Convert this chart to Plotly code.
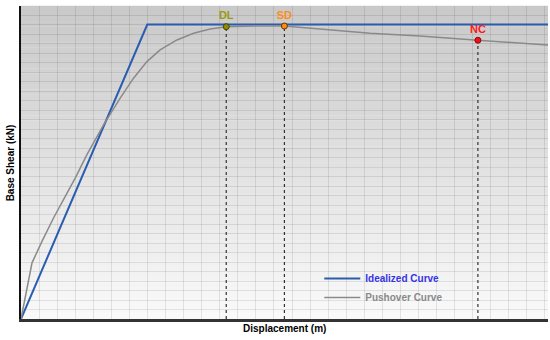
import plotly.graph_objects as go

# Data (displacement in m, base shear in kN)
pushover_disp = [0.0, 0.0061, 0.0116, 0.0180, 0.0245, 0.0300, 0.0365, 0.0457, 0.0549, 0.0623,
                 0.0697, 0.0770, 0.0863, 0.0955, 0.1047, 0.1136, 0.1296, 0.1458, 0.1932,
                 0.2208, 0.2529, 0.2917]
pushover_shear = [0, 592, 819, 1065, 1293, 1486, 1732, 2047, 2328, 2539,
                  2714, 2837, 2942, 3013, 3058, 3082, 3089, 3089, 3013,
                  2984, 2939, 2889]
ideal_disp = [0.0, 0.0699, 0.2917]
ideal_shear = [0, 3105, 3105]

points = ["DL", "SD", "NC"]
point_disp = [0.1136, 0.1458, 0.2529]
point_shear = [3082, 3089, 2939]
point_colors = ["#8c8c00", "#ff8c1a", "#e8141e"]
point_edges = ["#444400", "#663300", "#990000"]
label_colors = ["#9a9a10", "#ff8c1a", "#ff1a1a"]

x_range = [0, 0.2917]
y_range = [0, 3300]

fig = go.Figure()

# gradient background bands
n = 60
for i in range(n):
    t = i / (n - 1)
    c = int(round(0xc9 + (0xf9 - 0xc9) * t))
    fig.add_shape(type="rect", xref="x domain", yref="y domain",
                  x0=0, x1=1, y0=1 - (i + 1) / n, y1=1 - i / n + 0.001,
                  fillcolor=f"rgb({c},{c},{c})", line_width=0, layer="below")

# dotted drop lines
for name, xd, yd in zip(points, point_disp, point_shear):
    fig.add_trace(go.Scatter(x=[xd, xd], y=[0, yd], mode="lines",
                             line=dict(color="#333333", width=1.2, dash="dot"),
                             showlegend=False, hoverinfo="skip"))

fig.add_trace(go.Scatter(x=ideal_disp, y=ideal_shear, mode="lines",
                         line=dict(color="#2a5cb0", width=2),
                         name="<b><span style='color:#3434e8'>Idealized Curve</span></b>"))
fig.add_trace(go.Scatter(x=pushover_disp, y=pushover_shear, mode="lines",
                         line=dict(color="#8a8a8a", width=1.5),
                         name="<b><span style='color:#8a8a8a'>Pushover Curve</span></b>"))

for name, xd, yd, mc, ec, lc in zip(points, point_disp, point_shear, point_colors, point_edges, label_colors):
    fig.add_trace(go.Scatter(x=[xd], y=[yd], mode="markers+text", text=[f"<b>{name}</b>"],
                             textposition="top center",
                             textfont=dict(color=lc, size=11, family="Liberation Sans, Arial"),
                             marker=dict(color=mc, size=6, line=dict(color=ec, width=1)),
                             showlegend=False, hoverinfo="skip"))

fig.add_annotation(text="<b>Displacement (m)</b>", xref="paper", yref="paper",
                   x=0.5, y=-0.005, xanchor="center", yanchor="top", showarrow=False,
                   font=dict(size=10, color="#000"))
fig.add_annotation(text="<b>Base Shear (kN)</b>", xref="paper", yref="paper",
                   x=-0.005, y=0.5, xanchor="right", yanchor="middle", showarrow=False,
                   textangle=-90, font=dict(size=10, color="#000"))

fig.update_layout(
    width=550, height=340,
    margin=dict(l=21, r=2, t=6, b=21, autoexpand=False),
    paper_bgcolor="white", plot_bgcolor="rgba(0,0,0,0)",
    font=dict(family="Liberation Sans, Arial", size=10, color="#000"),
    showlegend=True,
    legend=dict(x=0.566, y=0.176, xanchor="left", yanchor="top", bgcolor="rgba(0,0,0,0)",
                font=dict(size=10), tracegroupgap=0, itemwidth=36),
)
fig.update_xaxes(range=x_range, dtick=0.01, showticklabels=False, ticks="",
                 showgrid=True, gridcolor="rgba(0,0,0,0.09)", gridwidth=1,
                 showline=True, linecolor="#333333", linewidth=3, zeroline=False,
                 automargin=False)
fig.update_yaxes(range=y_range, dtick=100, showticklabels=False, ticks="",
                 showgrid=True, gridcolor="rgba(0,0,0,0.09)", gridwidth=1,
                 showline=True, linecolor="#111111", linewidth=2, zeroline=False,
                 automargin=False)

fig.write_html("out.html", config={"displayModeBar": False},
               post_script="document.body.style.margin='0';document.body.style.overflow='hidden';")
